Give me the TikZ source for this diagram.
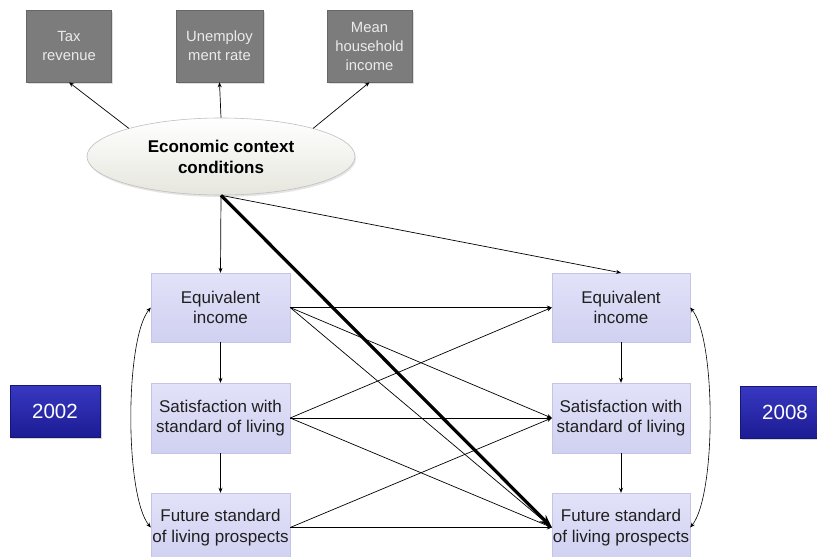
\documentclass[tikz,border=0pt]{standalone}
\usepackage{fontspec}
\setmainfont{Liberation Sans}
\usetikzlibrary{arrows.meta,shapes.geometric,shadows}
\definecolor{graybox}{HTML}{7C7C7C}
\definecolor{grayedge}{HTML}{666666}
\definecolor{lavtop}{HTML}{E2E2F9}
\definecolor{lavbot}{HTML}{D0D0F1}
\definecolor{lavedge}{HTML}{C4C4E6}
\definecolor{bluetop}{HTML}{3838C2}
\definecolor{bluebot}{HTML}{1C1C94}
\definecolor{elltop}{HTML}{FFFFFF}
\definecolor{ellbot}{HTML}{E6E6DE}
\tikzset{
  indbox/.style={rectangle, fill=graybox, draw=grayedge, line width=0.6pt,
    minimum width=85pt, minimum height=72pt, inner sep=0pt, align=center,
    text=white!92!black, font=\fontsize{14.8}{19}\selectfont,
    drop shadow={shadow xshift=1.5pt, shadow yshift=-1.5pt, opacity=0.25}},
  varbox/.style={rectangle, top color=lavtop, bottom color=lavbot, draw=lavedge, line width=0.4pt,
    minimum width=139pt, minimum height=69pt, inner sep=0pt, align=center,
    text=black!88, font=\fontsize{17}{20.5}\selectfont},
  yearbox/.style={rectangle, top color=bluetop, bottom color=bluebot, draw=bluebot!80!black, line width=0.5pt,
    minimum width=90pt, minimum height=52pt, inner sep=0pt,
    text=white, font=\fontsize{20.5}{24}\selectfont,
    drop shadow={shadow xshift=1.5pt, shadow yshift=-2pt, opacity=0.3}},
  ctxell/.style={ellipse, top color=elltop, bottom color=ellbot, draw=black!25, line width=0.6pt,
    minimum width=268pt, minimum height=77pt, inner sep=0pt, align=center,
    font=\bfseries\fontsize{17}{21}\selectfont,
    drop shadow={shadow xshift=1pt, shadow yshift=-2pt, opacity=0.2}},
  arr/.style={-{Stealth[length=5pt,width=4pt]}, line width=0.7pt, black},
  thickarr/.style={-{Stealth[length=13pt,width=9pt]}, line width=3.2pt, black},
  biarr/.style={{Stealth[length=5pt,width=4pt]}-{Stealth[length=5pt,width=4pt]}, line width=0.6pt, black},
}
\begin{document}
\begin{tikzpicture}[x=1pt,y=-1pt]
\useasboundingbox (0,0) rectangle (817,557);
\clip (0,0) rectangle (817,557);
\fill[white] (0,0) rectangle (817,557);

\node[indbox] (tax) at (69,46) {Tax\\revenue};
\node[indbox, minimum width=87pt] (unemp) at (219.5,46) {Unemploy\\ment rate};
\node[indbox] (mean) at (369.5,46) {Mean\\household\\income};

\node[ctxell] (ell) at (221,156.5) {Economic context\\conditions};

\node[varbox] (lei) at (220.5,307.5) {Equivalent\\income};
\node[varbox, minimum height=70pt] (lsat) at (220.5,418) {Satisfaction with\\standard of living};
\node[varbox] (lfut) at (220.5,527.5) {Future standard\\of living prospects};

\node[varbox, minimum width=138pt] (rei) at (621,307.5) {Equivalent\\income};
\node[varbox, minimum width=138pt, minimum height=70pt] (rsat) at (621,418) {Satisfaction with\\standard of living};
\node[varbox, minimum width=138pt] (rfut) at (621,527.5) {Future standard\\of living prospects};

\node[yearbox] (y2002) at (55,411) {2002};
\node[yearbox] (y2008) at (785,412) {2008};

% context to indicators
\draw[arr] (ell.163) -- (tax.south);
\draw[arr] (ell.north) -- (unemp.south);
\draw[arr] (ell.17) -- (mean.south);

% context to variables
\draw[arr] (ell.south) -- (lei.north);
\draw[arr] (ell.south) -- (rei.north);

% within-wave paths
\draw[arr] (lei.south) -- (lsat.north);
\draw[arr] (lsat.south) -- (lfut.north);
\draw[arr] (rei.south) -- (rsat.north);
\draw[arr] (rsat.south) -- (rfut.north);

% cross-lagged paths
\draw[arr] (lei.east) -- (rei.west);
\draw[arr] (lei.east) -- (rsat.west);
\draw[arr] (lei.east) -- (rfut.west);
\draw[arr] (lsat.east) -- (rei.west);
\draw[arr] (lsat.east) -- (rsat.west);
\draw[arr] (lsat.east) -- (rfut.west);
\draw[arr] (lfut.east) -- (rsat.west);
\draw[arr] (lfut.east) -- (rfut.west);

% thick path
\draw[thickarr] (ell.south) -- (rfut.west);

% correlations
\draw[biarr] (lei.west) .. controls +(-26,32) and +(-26,-32) .. (lfut.west);
\draw[biarr] (rei.east) .. controls +(26,32) and +(26,-32) .. (rfut.east);
\end{tikzpicture}
\end{document}
